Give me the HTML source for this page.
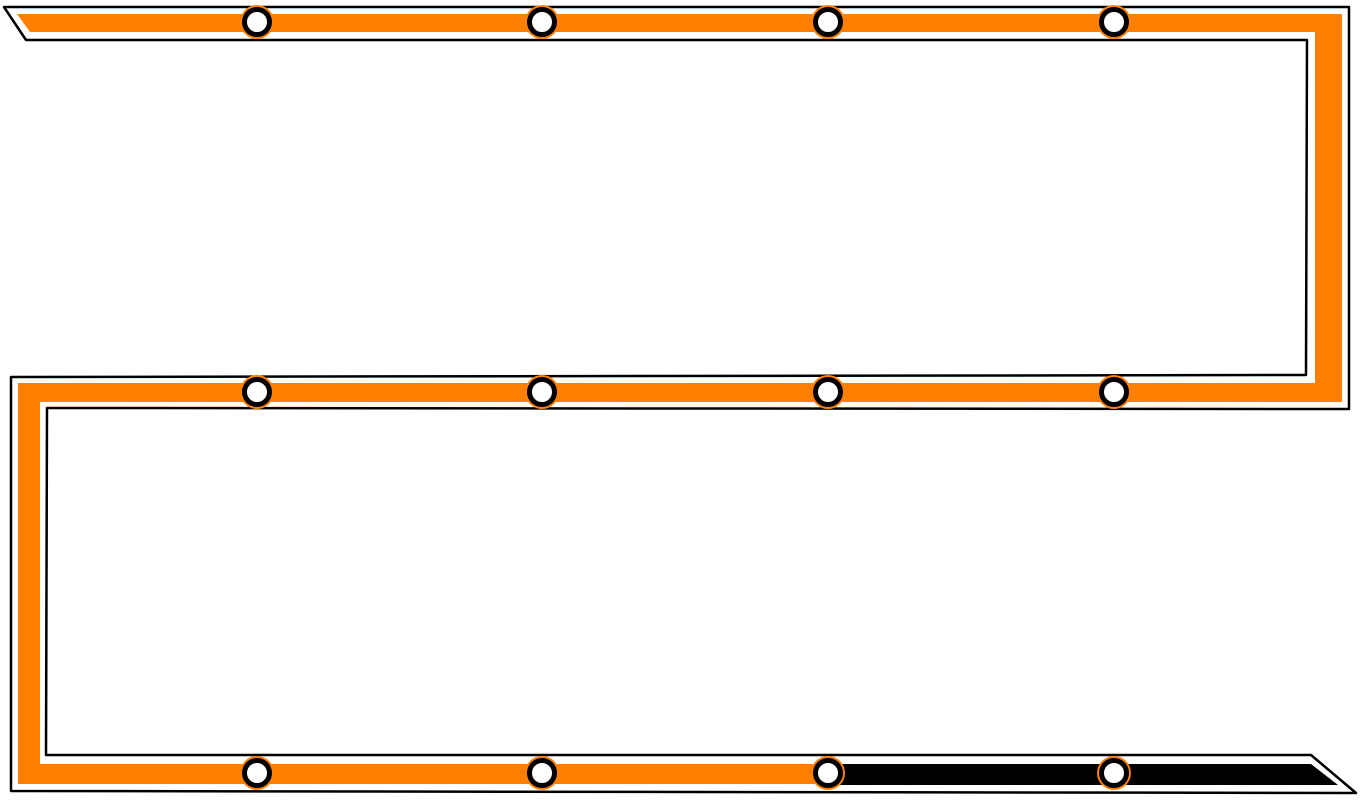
<!DOCTYPE html>
<html><head><style>html,body{margin:0;padding:0;background:#fff;}svg{display:block}</style></head>
<body>
<svg width="1362" height="800" viewBox="0 0 1362 800" xmlns="http://www.w3.org/2000/svg">
<polygon points="4,7 1349,7 1349,409 47,408 46,755 1311,755 1356,793 11,791 11,377 1306,375 1307,40 26,40" fill="#fff" stroke="#000" stroke-width="2.5" stroke-linejoin="round"/>
<polygon points="17,14 1342,14 1342,402 40,402 40,764 828,764 828,784 18,784 18,383 1315,383 1315,32 30,32" fill="#ff8000"/>
<polygon points="828,764 1311,764 1338,785 828,785" fill="#000"/>
<g fill="#ff8000">
<circle cx="257" cy="22" r="17"/><circle cx="542" cy="22" r="17"/><circle cx="828" cy="22" r="17"/><circle cx="1114" cy="22" r="17"/>
<circle cx="257" cy="392" r="17"/><circle cx="542" cy="392" r="17"/><circle cx="828" cy="392" r="17"/><circle cx="1114" cy="392" r="17"/>
<circle cx="257" cy="773" r="17"/><circle cx="542" cy="773" r="17"/><circle cx="828" cy="773" r="17"/><circle cx="1114" cy="773" r="17"/>
</g>
<g fill="#fff" stroke="#000" stroke-width="5">
<circle cx="257" cy="22" r="12.5"/><circle cx="542" cy="22" r="12.5"/><circle cx="828" cy="22" r="12.5"/><circle cx="1114" cy="22" r="12.5"/>
<circle cx="257" cy="392" r="12.5"/><circle cx="542" cy="392" r="12.5"/><circle cx="828" cy="392" r="12.5"/><circle cx="1114" cy="392" r="12.5"/>
<circle cx="257" cy="773" r="12.5"/><circle cx="542" cy="773" r="12.5"/><circle cx="828" cy="773" r="12.5"/><circle cx="1114" cy="773" r="12.5"/>
</g>
</svg>
</body></html>
